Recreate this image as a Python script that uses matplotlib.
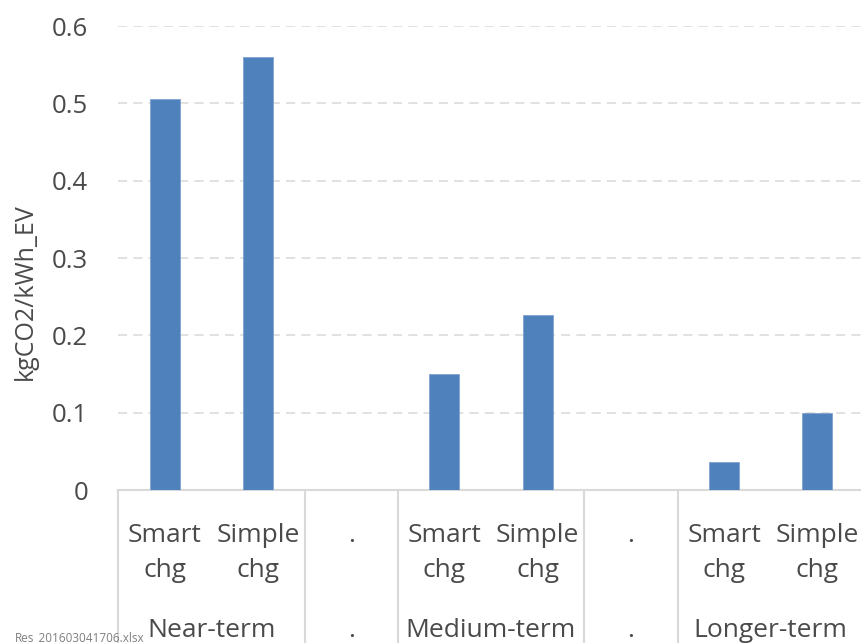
import numpy as np
import matplotlib.pyplot as plt

plt.rcParams['font.family'] = ['Open Sans', 'DejaVu Sans']

# emission factor per kWh of EV charging, by case
categories = ["Smart\nchg", "Simple\nchg", ".", "Smart\nchg", "Simple\nchg", ".", "Smart\nchg", "Simple\nchg"]
values = [0.506, 0.560, 0.0, 0.150, 0.226, 0.0, 0.036, 0.100]
groups = ["Near-term", ".", "Medium-term", ".", "Longer-term"]
group_sizes = [2, 1, 2, 1, 2]
yticks = [0, 0.1, 0.2, 0.3, 0.4, 0.5, 0.6]

txt = "#4A4A4A"
line = "#D9D9D9"
blue = "#4F81BD"

W, H = 861, 643
fig = plt.figure(figsize=(W / 100, H / 100), dpi=100)
ax = fig.add_axes([118 / W, 153 / H, (864 - 118) / W, (490 - 26) / H])

x = np.arange(len(categories))
ax.bar(x, values, width=0.32, color=blue, edgecolor="#7FA3D1", linewidth=0.6, zorder=3)

ax.set_xlim(-0.5, len(categories) - 0.5)
ax.set_ylim(0, 0.6)
ax.set_yticks(yticks)
ax.set_yticklabels([f"{v:g}" for v in yticks], fontsize=18.5, color=txt)
ax.tick_params(axis="y", length=0, pad=21.5)
ax.set_xticks([])
ax.yaxis.grid(True, color=line, linestyle=(0, (6, 4)), linewidth=1.1, zorder=0)
for s in ["top", "right", "left"]:
    ax.spines[s].set_visible(False)
ax.spines["bottom"].set_color(line)
ax.spines["bottom"].set_linewidth(1.5)

fig.text(25 / W, 1 - 292 / H, "kgCO2/kWh_EV", rotation=90, fontsize=18, color=txt,
         ha="center", va="center")

# two-level category axis below the plot
xt = ax.get_xaxis_transform()
ah = 490 - 26
bottom = -153 / ah
for i, lab in enumerate(categories):
    for line_txt, y_px in zip(lab.split("\n"), [542, 577]):
        ax.text(i, -(y_px - 490) / ah, line_txt, transform=xt, ha="center",
                va="baseline", fontsize=19, color=txt)

start = 0
edges = [-0.5]
for g, n in zip(groups, group_sizes):
    mid = start + (n - 1) / 2
    ax.text(mid, -(637 - 490) / ah, g, transform=xt, ha="center", va="baseline",
            fontsize=19, color=txt)
    start += n
    edges.append(start - 0.5)
for e in edges:
    ax.plot([e, e], [0, bottom], transform=xt, color=line, linewidth=1.5, clip_on=False)

fig.text(15 / W, 1 - 641 / H, "Res_201603041706.xlsx", fontsize=8.5, color="#7F7F7F",
         ha="left", va="baseline")

fig.savefig("out.png", dpi=100)
